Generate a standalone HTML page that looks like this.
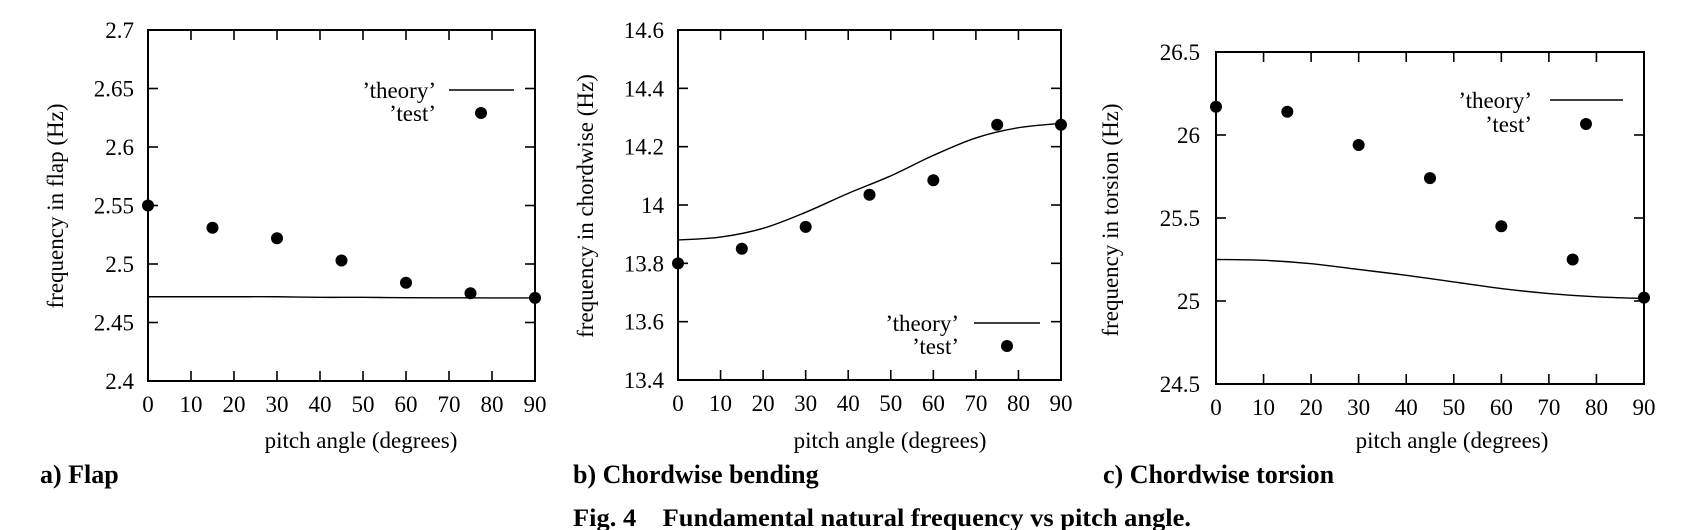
<!DOCTYPE html>
<html><head><meta charset="utf-8"><style>
html,body{margin:0;padding:0;background:#fff}
svg{display:block}
text{font-family:"Liberation Serif",serif;fill:#000}
</style></head><body>
<svg id="fig" width="1682" height="530" viewBox="0 0 1682 530" xmlns="http://www.w3.org/2000/svg">
<text x="573" y="526" font-size="25" font-weight="bold" textLength="618" lengthAdjust="spacingAndGlyphs" xml:space="preserve">Fig. 4    Fundamental natural frequency vs pitch angle.</text>
</svg>
<script>
const xTicks=[0,10,20,30,40,50,60,70,80,90];
const testX=[0,15,30,45,60,75,90];
const theoryX=[0,10,20,30,40,50,60,70,80,90];
const flapTest=[2.55,2.531,2.522,2.503,2.484,2.475,2.471];
const flapTheory=[2.472,2.472,2.472,2.472,2.4715,2.4715,2.4712,2.4711,2.471,2.471];
const flapYTicks=["2.4","2.45","2.5","2.55","2.6","2.65","2.7"];
const chordTest=[13.80,13.85,13.925,14.035,14.085,14.275,14.275];
const chordTheory=[13.88,13.89,13.92,13.975,14.04,14.10,14.17,14.23,14.265,14.28];
const chordYTicks=["13.4","13.6","13.8","14","14.2","14.4","14.6"];
const torTest=[26.17,26.14,25.94,25.74,25.45,25.25,25.02];
const torTheory=[25.25,25.245,25.225,25.19,25.155,25.115,25.075,25.045,25.025,25.015];
const torYTicks=["24.5","25","25.5","26","26.5"];

const NS="http://www.w3.org/2000/svg";
const svg=document.getElementById('fig');
function mk(tag,attrs,parent){const e=document.createElementNS(NS,tag);for(const k in attrs)e.setAttribute(k,attrs[k]);(parent||svg).appendChild(e);return e;}

function panel(cfg){
  const g=mk('g',{});
  
  
  const L=cfg.L,R=cfg.R,T=cfg.T,B=cfg.B;
  const ymin=parseFloat(cfg.yt[0]),ymax=parseFloat(cfg.yt[cfg.yt.length-1]);
  const sx=v=>L+(v-0)/(90-0)*(R-L);
  const sy=v=>B-(v-ymin)/(ymax-ymin)*(B-T);
  const fr=mk('rect',{x:L,y:T,width:R-L,height:B-T,fill:'none',stroke:'#000','stroke-width':2},g);
  
  
  xTicks.forEach(v=>{
    const x=sx(v);
    mk('line',{x1:x,y1:B,x2:x,y2:B-10,stroke:'#000','stroke-width':1.6},g);
    mk('line',{x1:x,y1:T,x2:x,y2:T+10,stroke:'#000','stroke-width':1.6},g);
    const t=mk('text',{x:x,y:B+31,'text-anchor':'middle','font-size':23},g);
    
    
    t.textContent=v;
  });
  cfg.yt.forEach(s=>{
    const y=sy(parseFloat(s));
    mk('line',{x1:L,y1:y,x2:L+10,y2:y,stroke:'#000','stroke-width':1.6},g);
    mk('line',{x1:R,y1:y,x2:R-10,y2:y,stroke:'#000','stroke-width':1.6},g);
    const t=mk('text',{x:cfg.ylx,y:y+8,'text-anchor':'end','font-size':23},g);
    
    
    t.textContent=s;
  });
  let d='M'+sx(theoryX[0])+','+sy(cfg.th[0]);
  const n=theoryX.length;
  for(let i=0;i<n-1;i++){
    const a=Math.max(i-1,0),b=Math.min(i+2,n-1);
    const p0=[sx(theoryX[a]),sy(cfg.th[a])];
    const p1=[sx(theoryX[i]),sy(cfg.th[i])];
    const p2=[sx(theoryX[i+1]),sy(cfg.th[i+1])];
    const p3=[sx(theoryX[b]),sy(cfg.th[b])];
    d+=' C'+(p1[0]+(p2[0]-p0[0])/6)+','+(p1[1]+(p2[1]-p0[1])/6)+' '+(p2[0]-(p3[0]-p1[0])/6)+','+(p2[1]-(p3[1]-p1[1])/6)+' '+p2[0]+','+p2[1];
  }
  const ln=mk('path',{d:d,fill:'none',stroke:'#000','stroke-width':1.4},g);
  
  
  testX.forEach((v,i)=>{
    const c=mk('circle',{cx:sx(v),cy:sy(cfg.te[i]),r:6,fill:'#000'},g);
    
    
  });
  const lg=cfg.leg;
  const t1=mk('text',{x:lg.tx,y:lg.y1+8,'text-anchor':'end','font-size':23},g);
  
  
  t1.textContent="\u2019theory\u2019";
  const l1=mk('line',{x1:lg.lx1,y1:lg.y1,x2:lg.lx2,y2:lg.y1,stroke:'#000','stroke-width':1.4},g);
  
  
  const t2=mk('text',{x:lg.tx,y:lg.y2+8,'text-anchor':'end','font-size':23},g);
  
  
  t2.textContent="\u2019test\u2019";
  const c2=mk('circle',{cx:lg.dx,cy:lg.y2,r:6,fill:'#000'},g);
  
  
  const xt=mk('text',{x:cfg.xtx,y:448,'text-anchor':'middle','font-size':23},g);
  
  
  xt.textContent='pitch angle (degrees)';
  const yt=mk('text',{x:0,y:0,'text-anchor':'middle','font-size':23,transform:'translate('+(cfg.ytx+8)+','+cfg.yty+') rotate(-90)'},g);
  
  
  yt.textContent=cfg.ytitle;
  const st=mk('text',{x:cfg.subx,y:483,'font-size':26,'font-weight':'bold'},g);
  
  
  st.textContent=cfg.sub;
}
panel({name:'panel-flap',L:148,R:535,T:30,B:381,yt:flapYTicks,te:flapTest,th:flapTheory,ylx:134,xtx:361,
  leg:{tx:436,lx1:449,lx2:514,y1:90,y2:113,dx:481},ytitle:'frequency in flap (Hz)',ytx:55,yty:206,sub:'a) Flap',subx:40});
panel({name:'panel-chordwise',L:678,R:1061,T:30,B:380,yt:chordYTicks,te:chordTest,th:chordTheory,ylx:664,xtx:890,
  leg:{tx:959,lx1:974,lx2:1040,y1:323,y2:346,dx:1007},ytitle:'frequency in chordwise (Hz)',ytx:585,yty:206,sub:'b) Chordwise bending',subx:573});
panel({name:'panel-torsion',L:1216,R:1644,T:52,B:384,yt:torYTicks,te:torTest,th:torTheory,ylx:1200,xtx:1452,
  leg:{tx:1532,lx1:1550,lx2:1623,y1:100,y2:124,dx:1586},ytitle:'frequency in torsion (Hz)',ytx:1110,yty:220,sub:'c) Chordwise torsion',subx:1103});
</script>
</body></html>
